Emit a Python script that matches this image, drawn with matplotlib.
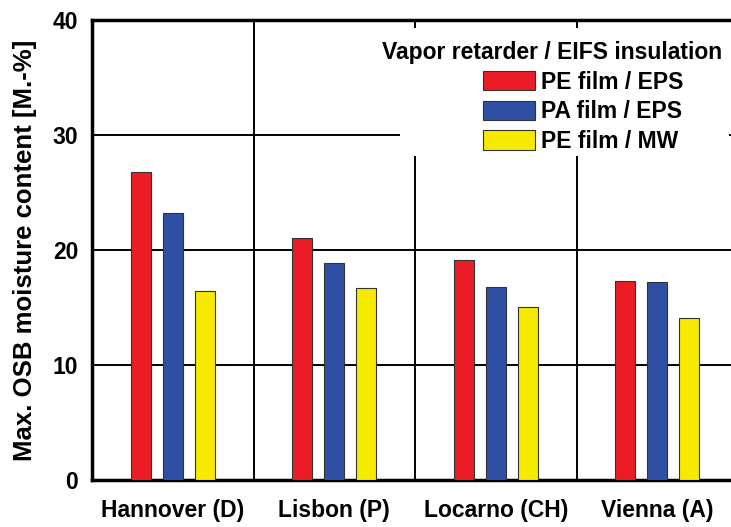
import numpy as np
import matplotlib.pyplot as plt
from matplotlib.patches import Rectangle

plt.rcParams['font.family'] = ['Liberation Sans', 'DejaVu Sans']
plt.rcParams['font.weight'] = 'bold'

cities = ["Hannover (D)", "Lisbon (P)", "Locarno (CH)", "Vienna (A)"]
series = ["PE film / EPS", "PA film / EPS", "PE film / MW"]
pe_eps = [26.8, 21.0, 19.1, 17.3]
pa_eps = [23.2, 18.9, 16.8, 17.2]
pe_mw = [16.4, 16.7, 15.0, 14.1]
colors = ["#ec1c24", "#2f4fa3", "#f5ea00"]

fig = plt.figure(figsize=(7.31, 5.27), dpi=100)
ax = fig.add_axes([0.1259, 0.0892, 0.884, 0.873])

x = np.arange(len(cities))
width = 0.124
offset = 0.198
for i, (vals, lab) in enumerate(zip([pe_eps, pa_eps, pe_mw], series)):
    ax.bar(x + (i - 1) * offset, vals, width, color=colors[i],
           edgecolor="#333333", linewidth=0.8, label=lab, zorder=3)

ax.set_xlim(-0.5, 3.5)
ax.set_ylim(0, 40)
ax.set_yticks([0, 10, 20, 30, 40])
ax.set_xticks(x)
ax.set_xticklabels(cities)
ax.set_xticks([0.5, 1.5, 2.5], minor=True)
ax.tick_params(axis="both", which="both", length=0, labelsize=16.5)
ax.tick_params(axis="y", pad=10)
ax.tick_params(axis="x", pad=14)
ax.grid(True, axis="y", color="black", linewidth=1.4, zorder=1)
ax.grid(True, axis="x", which="minor", color="black", linewidth=1.4, zorder=1)
ax.grid(False, axis="x", which="major")
ax.set_axisbelow(True)

for s in ["left", "bottom", "top"]:
    ax.spines[s].set_linewidth(2.5)
ax.spines["right"].set_visible(False)

ax.set_ylabel("Max. OSB moisture content [M.-%]", fontsize=18.5, fontweight="bold",
              labelpad=11)

# white area behind the legend covering the grid
ax.add_patch(Rectangle((0.477, 0.705), 0.508, 0.278, transform=ax.transAxes,
                       facecolor="white", edgecolor="none", zorder=2))
ax.text(0.975, 0.93, "Vapor retarder / EIFS insulation", transform=ax.transAxes,
        ha="right", va="center", fontsize=16.5, fontweight="bold", zorder=4)
leg = ax.legend(loc="upper left", bbox_to_anchor=(0.605, 0.89), frameon=False,
                fontsize=16.5, handlelength=2.27, handleheight=0.92,
                handletextpad=0.25, labelspacing=0.29, borderpad=0, borderaxespad=0)
leg.set_zorder(5)
for h in leg.legend_handles:
    h.set_edgecolor("#333333")

fig.savefig("out.png", dpi=100)
